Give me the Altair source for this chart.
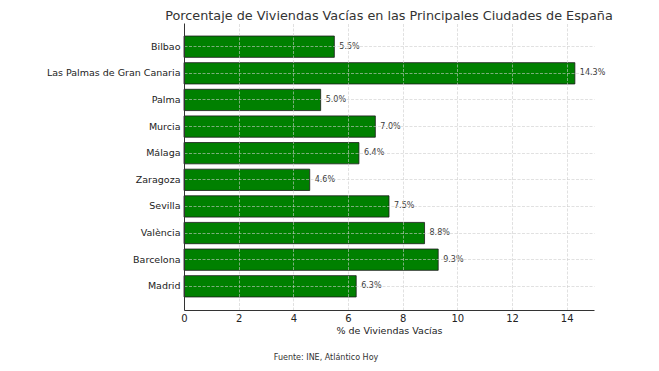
import altair as alt
import pandas as pd

cities = ["Bilbao", "Las Palmas de Gran Canaria", "Palma", "Murcia", "Málaga",
          "Zaragoza", "Sevilla", "València", "Barcelona", "Madrid"]
values = [5.5, 14.3, 5.0, 7.0, 6.4, 4.6, 7.5, 8.8, 9.3, 6.3]
x_ticks = [0, 2, 4, 6, 8, 10, 12, 14]

df = pd.DataFrame({"city": cities, "value": values})
df["label"] = [f"{v:.1f}%" for v in values]

FONT = "DejaVu Sans"

y_enc = alt.Y("city:N", sort=cities, title=None,
              scale=alt.Scale(paddingInner=0.2, paddingOuter=0.49),
              axis=alt.Axis(labelFontSize=9.5, labelColor="#222", labelPadding=4,
                            ticks=False, domainColor="#333", domainWidth=1,
                            grid=True, gridColor="#cccccc", gridDash=[3, 1.5],
                            gridOpacity=0.75, gridWidth=0.8, zindex=1, labelFont=FONT))
x_enc = alt.X("value:Q", title="% de Viviendas Vacías",
              scale=alt.Scale(domain=[0, 15], nice=False),
              axis=alt.Axis(values=x_ticks, labelFontSize=10, labelColor="#222",
                            titleFontSize=9.5, titleFontWeight="normal", titleColor="#222",
                            titlePadding=2, labelPadding=3, ticks=False, labelFlush=False,
                            domainColor="#333", domainWidth=1,
                            grid=True, gridColor="#cccccc", gridDash=[3, 1.5],
                            gridOpacity=0.75, gridWidth=0.8, zindex=1,
                            labelFont=FONT, titleFont=FONT, format="d"))

bars = alt.Chart(df).mark_bar(color="#008000", stroke="#1a1a1a", strokeWidth=0.8).encode(
    y=y_enc, x=x_enc)

labels = alt.Chart(df).mark_text(align="left", baseline="middle", dx=5, fontSize=8,
                                 color="#3a3a3a", font=FONT).encode(
    y=alt.Y("city:N", sort=cities), x="value:Q", text="label:N")

source = alt.Chart(pd.DataFrame({"t": ["Fuente: INE, Atlántico Hoy"]})).mark_text(
    fontSize=8, color="#333", font=FONT, align="center", baseline="middle").encode(
    x=alt.value(142), y=alt.value(335), text="t:N")

chart = alt.layer(bars, labels, source).properties(
    width=410, height=287,
    title=alt.TitleParams("Porcentaje de Viviendas Vacías en las Principales Ciudades de España",
                          fontSize=12.8, fontWeight="normal", color="#333", font=FONT,
                          anchor="middle", offset=0),
    autosize=alt.AutoSizeParams(type="none"),
    padding={"left": 176, "top": 15, "right": 45, "bottom": 58},
).configure_view(stroke=None)

chart.save("out.html", embed_options={"renderer": "svg", "actions": False})
